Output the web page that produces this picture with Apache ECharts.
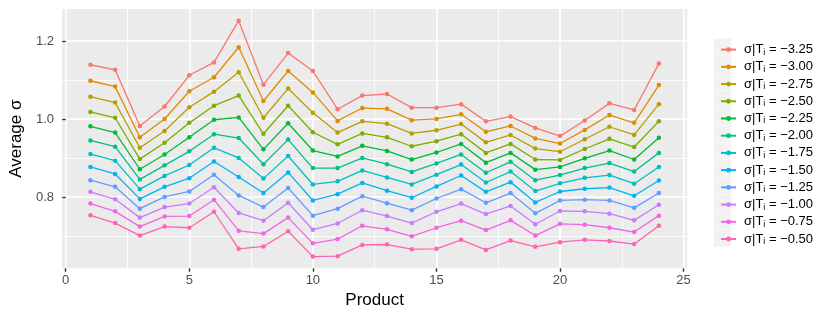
<!DOCTYPE html>
<html><head><meta charset="utf-8">
<script src="https://cdn.jsdelivr.net/npm/echarts@6/dist/echarts.min.js"></script>
<style>html,body{margin:0;padding:0;background:#fff}#c{width:830px;height:320px}</style>
</head><body><div id="c"></div>
<script>
// ---- data ----
const products = [1,2,3,4,5,6,7,8,9,10,11,12,13,14,15,16,17,18,19,20,21,22,23,24];
const levelLabels = ['−3.25','−3.00','−2.75','−2.50','−2.25','−2.00','−1.75','−1.50','−1.25','−1.00','−0.75','−0.50'];
const sigmaM325 = [1.139,1.126,0.982,1.032,1.112,1.145,1.252,1.088,1.169,1.123,1.025,1.060,1.064,1.029,1.029,1.038,0.994,1.006,0.977,0.956,0.996,1.040,1.023,1.142];
const sigmaM300 = [1.098,1.083,0.953,1.000,1.071,1.107,1.184,1.046,1.123,1.068,0.995,1.028,1.026,0.997,1.000,1.012,0.967,0.982,0.950,0.937,0.972,1.010,0.990,1.087];
const sigmaM275 = [1.057,1.042,0.926,0.969,1.030,1.070,1.120,1.003,1.078,1.016,0.965,0.994,0.988,0.963,0.971,0.987,0.940,0.959,0.924,0.916,0.948,0.980,0.959,1.038];
const sigmaM250 = [1.018,1.003,0.897,0.939,0.990,1.034,1.060,0.962,1.034,0.966,0.935,0.963,0.953,0.930,0.943,0.961,0.913,0.936,0.896,0.895,0.923,0.949,0.928,0.994];
const sigmaM225 = [0.981,0.965,0.871,0.909,0.953,0.998,1.004,0.922,0.989,0.919,0.904,0.931,0.918,0.896,0.914,0.936,0.888,0.913,0.870,0.877,0.899,0.919,0.896,0.952];
const sigmaM200 = [0.945,0.929,0.845,0.881,0.917,0.961,0.951,0.884,0.947,0.874,0.874,0.900,0.884,0.864,0.886,0.909,0.862,0.890,0.843,0.856,0.874,0.887,0.865,0.913];
const sigmaM175 = [0.910,0.893,0.820,0.854,0.882,0.926,0.900,0.847,0.905,0.832,0.840,0.868,0.850,0.832,0.857,0.883,0.837,0.865,0.815,0.835,0.849,0.856,0.834,0.877];
const sigmaM150 = [0.877,0.859,0.795,0.826,0.848,0.891,0.851,0.810,0.863,0.791,0.807,0.836,0.816,0.798,0.827,0.855,0.813,0.838,0.786,0.814,0.821,0.824,0.803,0.842];
const sigmaM125 = [0.843,0.826,0.770,0.800,0.814,0.857,0.804,0.774,0.823,0.752,0.770,0.802,0.784,0.766,0.796,0.820,0.785,0.810,0.758,0.791,0.793,0.791,0.772,0.810];
const sigmaM100 = [0.813,0.794,0.747,0.774,0.783,0.825,0.759,0.739,0.785,0.716,0.732,0.766,0.751,0.733,0.762,0.783,0.756,0.777,0.730,0.764,0.763,0.757,0.740,0.780];
const sigmaM075 = [0.783,0.763,0.724,0.750,0.751,0.793,0.713,0.706,0.747,0.681,0.692,0.726,0.717,0.699,0.721,0.739,0.715,0.740,0.701,0.731,0.729,0.721,0.710,0.752];
const sigmaM050 = [0.753,0.733,0.701,0.724,0.721,0.762,0.667,0.673,0.712,0.647,0.648,0.677,0.678,0.666,0.667,0.690,0.664,0.688,0.672,0.684,0.690,0.687,0.679,0.726];
const seriesValues = [sigmaM325,sigmaM300,sigmaM275,sigmaM250,sigmaM225,sigmaM200,sigmaM175,sigmaM150,sigmaM125,sigmaM100,sigmaM075,sigmaM050];
const xTickValues = [0,5,10,15,20,25];
const xMinorValues = [2.5,7.5,12.5,17.5,22.5];
const yTickValues = [0.8,1.0,1.2];
const yMinorValues = [0.7,0.9,1.1];

// ---- styles ----
const colors = ['#F8766D','#DE8C00','#B79F00','#7CAE00','#00BA38','#00C08B','#00BFC4','#00B4F0','#619CFF','#C77CFF','#F564E3','#FF64B0'];
const FONT = '"Liberation Sans", Arial, Helvetica, sans-serif';
const X_MIN = -0.15, X_MAX = 25.15, Y_MIN = 0.617, Y_MAX = 1.282;

const series = seriesValues.map((vals, i) => ({
  name: levelLabels[i],
  type: 'line',
  xAxisIndex: 0, yAxisIndex: 0,
  data: products.map((p, j) => [p, vals[j]]),
  symbol: 'circle', symbolSize: 4.5,
  showSymbol: true,
  lineStyle: { width: 1.3, color: colors[i] },
  itemStyle: { color: colors[i] },
  emphasis: { disabled: true },
  animation: false
}));

// legend key backgrounds
const keyTop0 = 38.6, keyPitch = 17.36;
const keyRects = levelLabels.map((l, i) => ({
  type: 'rect', silent: true, z: -1,
  shape: { x: 714, y: keyTop0 + i * keyPitch, width: 17.3, height: 17.0 },
  style: { fill: '#F2F2F2' }
}));

const chart = echarts.init(document.getElementById('c'), null, { renderer: 'canvas' });
chart.setOption({
  animation: false,
  color: colors,
  textStyle: { fontFamily: FONT },
  grid: { left: 61.3, right: 142.7, top: 9, bottom: 51.7, show: true, backgroundColor: '#EBEBEB', borderWidth: 0, containLabel: false },
  graphic: keyRects,
  xAxis: [
    {
      type: 'value', min: X_MIN, max: X_MAX, position: 'bottom',
      name: 'Product', nameLocation: 'middle', nameGap: 23,
      nameTextStyle: { fontSize: 17, color: '#000', fontFamily: FONT },
      axisLine: { show: false },
      axisTick: { show: true, length: 3.5, lineStyle: { color: '#333333', width: 1.4 }, customValues: xTickValues },
      axisLabel: { show: true, customValues: xTickValues, fontSize: 13, color: '#4D4D4D', margin: 6, fontFamily: FONT,
        showMinLabel: true, showMaxLabel: true, formatter: v => String(v) },
      splitLine: { show: true, lineStyle: { color: '#FFFFFF', width: 1.6 } }
    },
    {
      type: 'value', min: X_MIN, max: X_MAX, position: 'top',
      axisLine: { show: false },
      axisTick: { show: false, customValues: xMinorValues },
      axisLabel: { show: false, customValues: xMinorValues },
      splitLine: { show: true, lineStyle: { color: '#FFFFFF', width: 0.8 } }
    }
  ],
  yAxis: [
    {
      type: 'value', min: Y_MIN, max: Y_MAX, position: 'left',
      name: 'Average σ', nameLocation: 'middle', nameGap: 37, nameRotate: 90,
      nameTextStyle: { fontSize: 17, color: '#000', fontFamily: FONT },
      axisLine: { show: false },
      axisTick: { show: true, length: 3.5, lineStyle: { color: '#333333', width: 1.4 }, customValues: yTickValues },
      axisLabel: { show: true, customValues: yTickValues, fontSize: 13, color: '#4D4D4D', margin: 8, fontFamily: FONT,
        showMinLabel: true, showMaxLabel: true, formatter: v => v.toFixed(1) },
      splitLine: { show: true, lineStyle: { color: '#FFFFFF', width: 1.6 } }
    },
    {
      type: 'value', min: Y_MIN, max: Y_MAX, position: 'right',
      axisLine: { show: false },
      axisTick: { show: false, customValues: yMinorValues },
      axisLabel: { show: false, customValues: yMinorValues },
      splitLine: { show: true, lineStyle: { color: '#FFFFFF', width: 0.8 } }
    }
  ],
  legend: {
    show: true, orient: 'vertical', left: 715, top: 36.6,
    itemWidth: 15, itemHeight: 6, itemGap: 2.22,
    selectedMode: false,
    data: levelLabels,
    formatter: name => 'σ|T{sub|i} = ' + name,
    textStyle: {
      fontSize: 13, color: '#000', fontFamily: FONT, lineHeight: 14, padding: [0, 0, 0, 3],
      rich: { sub: { fontSize: 9, lineHeight: 14, verticalAlign: 'bottom', padding: [6, 0, 0, 0], fontFamily: FONT, color: '#000' } }
    }
  },
  series: series
});
</script>
</body></html>
